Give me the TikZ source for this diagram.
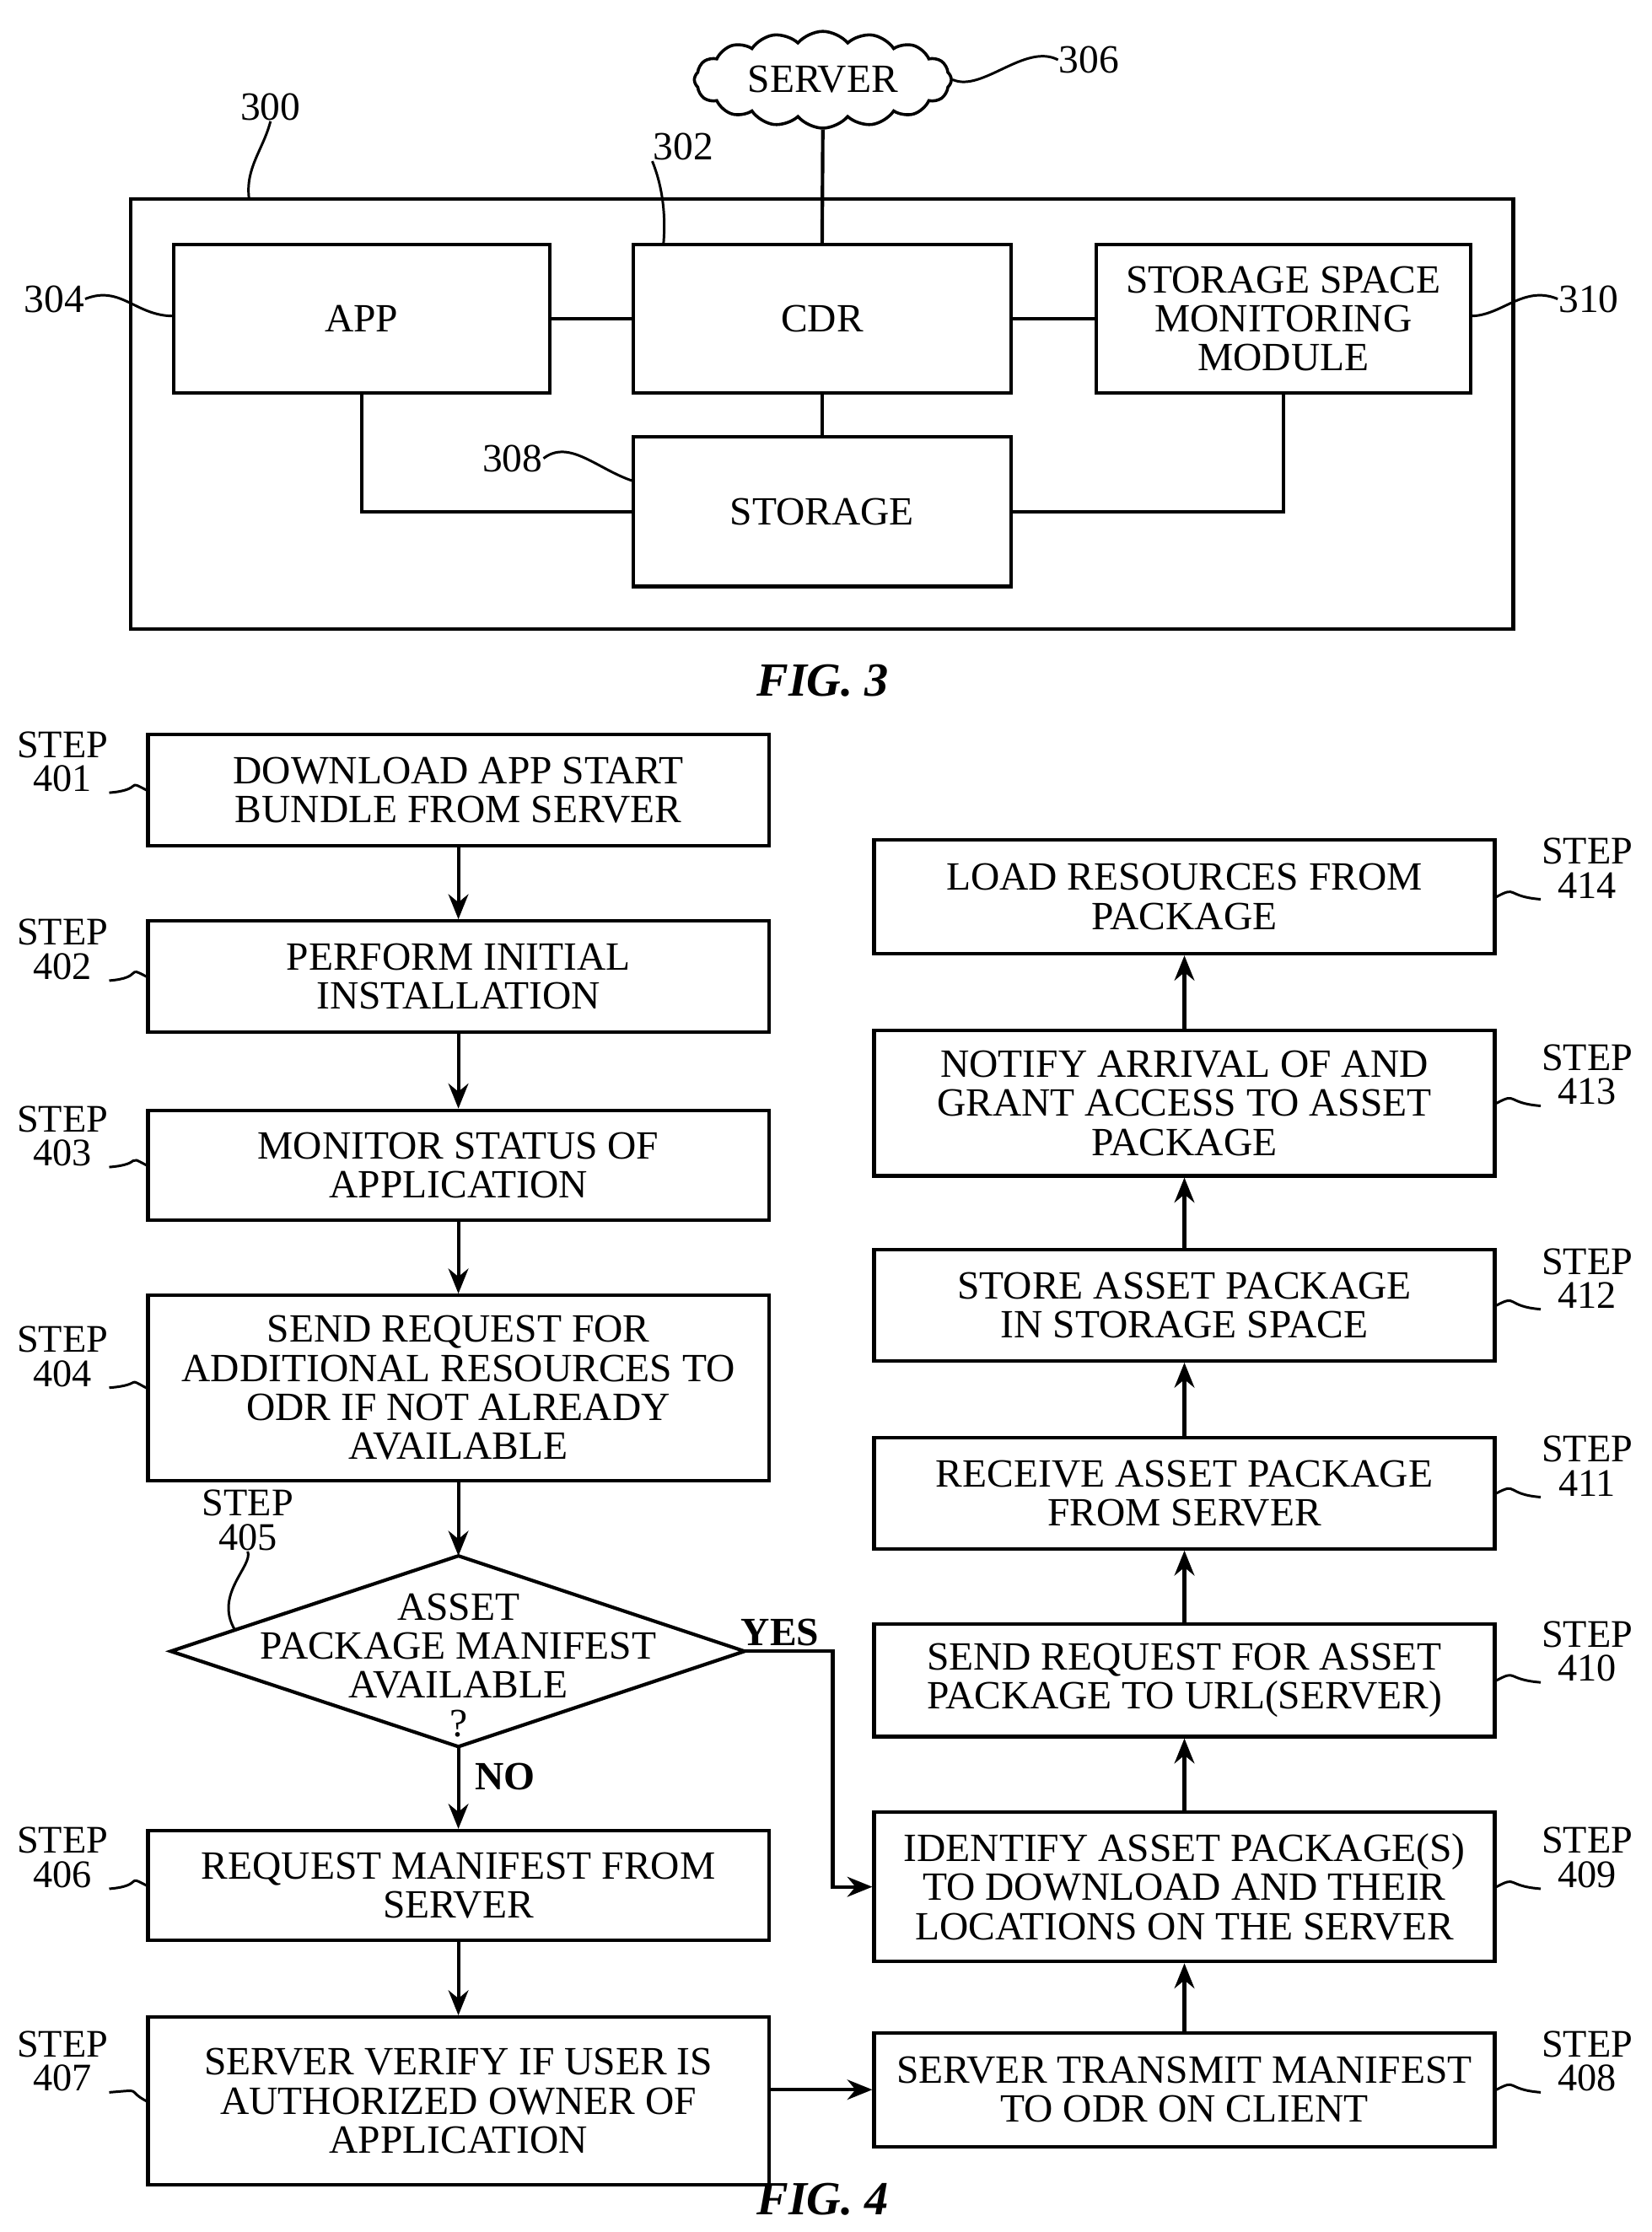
\documentclass[tikz,border=0pt]{standalone}
\usepackage{fontspec}
\setmainfont{Liberation Serif}
\usetikzlibrary{shapes.geometric,shapes.symbols,arrows.meta}
\begin{document}
\begin{tikzpicture}[x=0.01cm,y=-0.01cm,
  every node/.style={font=\fontsize{8}{7.8}\selectfont, align=center, inner sep=0pt},
  box/.style={draw, line width=0.7pt},
  ln/.style={line width=0.7pt},
  arr/.style={line width=0.7pt,-{Stealth[length=5pt,width=4pt]}},
  lead/.style={line width=0.5pt},
  stp/.style={font=\fontsize{7.8}{6.8}\selectfont},
  fig/.style={font=\bfseries\itshape\fontsize{9.5}{10}\selectfont}]
\useasboundingbox (0,0) rectangle (1160,1568);
% FIG 3
\node[box,minimum width=971*0.01cm,minimum height=302*0.01cm] (outer) at (577.5,291) {};
\node[draw,cloud,cloud puffs=16,cloud puff arc=100,aspect=3.4,inner xsep=3pt,inner ysep=2pt,line width=0.6pt] (server) at (578,56) {SERVER};
\node[box,minimum width=264*0.01cm,minimum height=104*0.01cm] (app) at (254,224) {APP};
\node[box,minimum width=265*0.01cm,minimum height=104*0.01cm] (cdr) at (577.5,224) {CDR};
\node[box,minimum width=263*0.01cm,minimum height=104*0.01cm] (ssm) at (901.5,224) {STORAGE SPACE\\MONITORING\\MODULE};
\node[box,minimum width=265*0.01cm,minimum height=105*0.01cm] (stor) at (577.5,359.5) {STORAGE};
\draw[ln] (server.south) -- (cdr.north);
\draw[ln] (app.east) -- (cdr.west);
\draw[ln] (cdr.east) -- (ssm.west);
\draw[ln] (cdr.south) -- (stor.north);
\draw[ln] (app.south) |- (stor.west);
\draw[ln] (ssm.south) |- (stor.east);
\node (l300) at (190,75) {300};
\node (l302) at (480,103) {302};
\node (l304) at (38,210) {304};
\node (l306) at (765,42) {306};
\node (l308) at (360,322) {308};
\node (l310) at (1116,210) {310};
\coordinate (c300) at (175,140);
\coordinate (c302) at (466,172);
\coordinate (c304) at (122,222);
\coordinate (c308) at (445,338);
\coordinate (c310) at (1033,222);
\draw[lead] (l300.south) .. controls (185,105) and (172,118) .. (c300);
\draw[lead] (l302.south west) .. controls (465,130) and (468,150) .. (c302);
\draw[lead] (l304.east) .. controls (85,200) and (95,222) .. (c304);
\draw[lead] (l306.west) .. controls (720,30) and (690,65) .. (server.east);
\draw[lead] (l308.east) .. controls (400,308) and (420,330) .. (c308);
\draw[lead] (l310.west) .. controls (1070,200) and (1055,222) .. (c310);
\node[fig] (f3) at (578,478) {FIG. 3};
% FIG 4 left
\node[box,minimum width=436*0.01cm,minimum height=78*0.01cm] (s401) at (322,555) {DOWNLOAD APP START\\BUNDLE FROM SERVER};
\node[box,minimum width=436*0.01cm,minimum height=78*0.01cm] (s402) at (322,686) {PERFORM INITIAL\\INSTALLATION};
\node[box,minimum width=436*0.01cm,minimum height=77*0.01cm] (s403) at (322,818.5) {MONITOR STATUS OF\\APPLICATION};
\node[box,minimum width=436*0.01cm,minimum height=130*0.01cm] (s404) at (322,975) {SEND REQUEST FOR\\ADDITIONAL RESOURCES TO\\ODR IF NOT ALREADY\\AVAILABLE};
\draw[ln] (120,1160) -- (322,1093) -- (523,1160) -- (322,1227) -- cycle;
\coordinate (dl) at (120,1160); \coordinate (dt) at (322,1093);
\coordinate (dr) at (523,1160); \coordinate (db) at (322,1227);
\node (s405) at (322,1170) {ASSET\\PACKAGE MANIFEST\\AVAILABLE\\?};
\node[box,minimum width=436*0.01cm,minimum height=77*0.01cm] (s406) at (322,1324.5) {REQUEST MANIFEST FROM\\SERVER};
\node[box,minimum width=436*0.01cm,minimum height=118*0.01cm] (s407) at (322,1476) {SERVER VERIFY IF USER IS\\AUTHORIZED OWNER OF\\APPLICATION};
% right
\node[box,minimum width=436*0.01cm,minimum height=80*0.01cm] (s414) at (832,630) {LOAD RESOURCES FROM\\PACKAGE};
\node[box,minimum width=436*0.01cm,minimum height=102*0.01cm] (s413) at (832,775) {NOTIFY ARRIVAL OF AND\\GRANT ACCESS TO ASSET\\PACKAGE};
\node[box,minimum width=436*0.01cm,minimum height=78*0.01cm] (s412) at (832,917) {STORE ASSET PACKAGE\\IN STORAGE SPACE};
\node[box,minimum width=436*0.01cm,minimum height=78*0.01cm] (s411) at (832,1049) {RECEIVE ASSET PACKAGE\\FROM SERVER};
\node[box,minimum width=436*0.01cm,minimum height=79*0.01cm] (s410) at (832,1180.5) {SEND REQUEST FOR ASSET\\PACKAGE TO URL(SERVER)};
\node[box,minimum width=436*0.01cm,minimum height=105*0.01cm] (s409) at (832,1325.5) {IDENTIFY ASSET PACKAGE(S)\\TO DOWNLOAD AND THEIR\\LOCATIONS ON THE SERVER};
\node[box,minimum width=436*0.01cm,minimum height=80*0.01cm] (s408) at (832,1468) {SERVER TRANSMIT MANIFEST\\TO ODR ON CLIENT};
% arrows
\draw[arr] (s401.south) -- (s402.north);
\draw[arr] (s402.south) -- (s403.north);
\draw[arr] (s403.south) -- (s404.north);
\draw[arr] (s404.south) -- (dt);
\draw[arr] (db) -- (s406.north);
\draw[arr] (s406.south) -- (s407.north);
\draw[arr] (s407.east |- 0,1468) -- (s408.west);
\draw[arr] (s408.north) -- (s409.south);
\draw[arr] (s409.north) -- (s410.south);
\draw[arr] (s410.north) -- (s411.south);
\draw[arr] (s411.north) -- (s412.south);
\draw[arr] (s412.north) -- (s413.south);
\draw[arr] (s413.north) -- (s414.south);
\draw[arr] (dr) -- (585,1160) |- (s409.west);
\node[font=\bfseries\fontsize{8}{8}\selectfont] (yes) at (548,1147) {YES};
\node[font=\bfseries\fontsize{8}{8}\selectfont] (no) at (355,1248) {NO};
% step labels left
\foreach \n/\y in {401/535,402/667,403/798,404/953,406/1305,407/1448}{
  \node[stp] (t\n) at (44,\y) {STEP\\\n};
  \draw[lead] (t\n.south east) .. controls +(25,-2) and +(-15,-8) .. (s\n.west);
}
\node[stp] (t405) at (174,1068) {STEP\\405};
\draw[lead] (t405.south) .. controls (178,1100) and (150,1120) .. (165,1145);
\foreach \n/\y in {414/610,413/755,412/898,411/1030,410/1160,409/1305,408/1448}{
  \node[stp] (t\n) at (1115,\y) {STEP\\\n};
  \draw[lead] (t\n.south west) .. controls +(-25,-2) and +(15,-8) .. (s\n.east);
}
\node[fig] (f4) at (578,1545) {FIG. 4};
\end{tikzpicture}
\end{document}
